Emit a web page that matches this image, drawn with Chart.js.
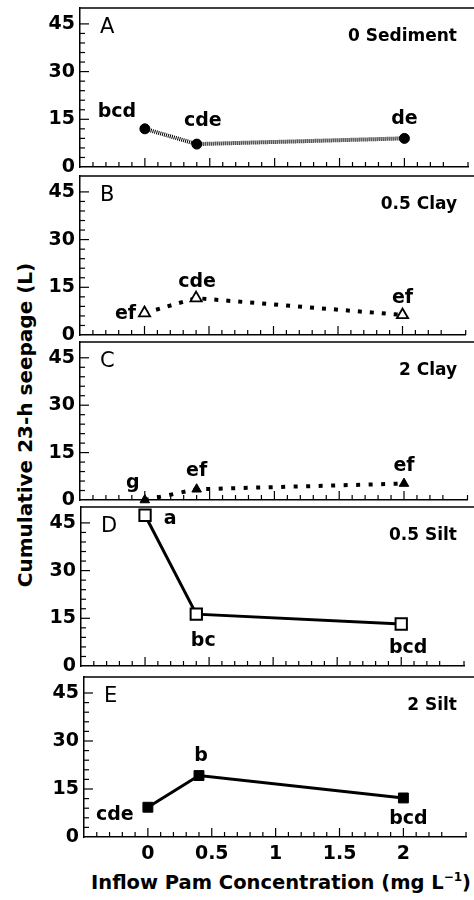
<!DOCTYPE html>
<html>
<head>
<meta charset="utf-8">
<script src="https://cdn.jsdelivr.net/npm/chart.js@4.4.1/dist/chart.umd.min.js"></script>
<style>
  body { margin: 0; background: #fff; width: 474px; height: 900px; position: relative; overflow: hidden; font-family: "DejaVu Sans", sans-serif; }
  canvas { position: absolute; left: 0; }
  #ytitle { position: absolute; left: 25px; top: 425px; transform: translate(-50%, -50%) rotate(-90deg); font-weight: bold; font-size: 20px; white-space: nowrap; color: #000; }
  #xtitle { position: absolute; left: 281px; top: 882px; transform: translate(-50%, -50%); font-weight: bold; font-size: 19.5px; white-space: nowrap; color: #000; }
  #xtitle sup { font-size: 12px; vertical-align: 8px; line-height: 0; }
</style>
</head>
<body>
<div id="ytitle">Cumulative 23-h seepage (L)</div>
<div id="xtitle">Inflow Pam Concentration (mg L<sup>&minus;1</sup>)</div>
<script>
// data
var pamConc = [0, 0.4, 2];

var seepA = [12.0, 7.2, 9.0];
var seepB = [6.9, 11.6, 6.3];
var seepC = [0.0, 3.4, 5.2];
var seepD = [47.4, 16.3, 13.2];
var seepE = [9.3, 19.2, 12.2];

var lettersA = ['bcd', 'cde', 'de'];
var lettersB = ['ef', 'cde', 'ef'];
var lettersC = ['g', 'ef', 'ef'];
var lettersD = ['a', 'bc', 'bcd'];
var lettersE = ['cde', 'b', 'bcd'];

var panelIds = ['A', 'B', 'C', 'D', 'E'];
var panelTitles = ['0 Sediment', '0.5 Clay', '2 Clay', '0.5 Silt', '2 Silt'];
var yTickLabels = [0, 15, 30, 45];
var xTickLabels = [0, 0.5, 1, 1.5, 2];

var seepage = [seepA, seepB, seepC, seepD, seepE];
var letters = [lettersA, lettersB, lettersC, lettersD, lettersE];

// layout
var plotTop = [8, 176, 342, 507, 677];
var plotBottom = [164, 332, 497, 663, 834];
var axisLeft = [80, 80, 80, 81, 84];
var PAD_TOP = 10, PAD_BOTTOM = 12, X_AXIS_H = 34, EXTRA = 3;

var styles = [
  { pointStyle: 'circle', radius: 5, fill: '#000', pbw: 1, dash: [1, 1], width: 4 },
  { pointStyle: 'triangle', radius: 6.5, fill: '#fff', pbw: 1.8, dash: [4, 8], width: 4 },
  { pointStyle: 'triangle', radius: 5.5, fill: '#000', pbw: 1, dash: [4, 8.5], width: 4 },
  { pointStyle: 'rect', radius: 8, fill: '#fff', pbw: 2, dash: [], width: 3 },
  { pointStyle: 'rect', radius: 7, fill: '#000', pbw: 1, dash: [], width: 3 }
];

var labelOffsets = [
  [[-28, -17], [6, -23], [0, -19]],
  [[-19, 1], [1, -16], [0, -17]],
  [[-12, -17], [0, -18], [0, -18]],
  [[25, 4], [7, 27], [7, 24]],
  [[-33, 8], [2, -19], [5, 21]]
];

var boldFont = '"DejaVu Sans", sans-serif';

var panelDecor = {
  id: 'panelDecor',
  afterDraw: function (chart) {
    var o = chart.options.plugins.panelDecor;
    var ctx = chart.ctx, a = chart.chartArea;
    var x = chart.scales.x, y = chart.scales.y;
    ctx.save();
    ctx.strokeStyle = '#000';
    ctx.lineWidth = 1.5;
    // top frame line
    ctx.beginPath();
    ctx.moveTo(a.left, a.top);
    ctx.lineTo(chart.width + 2, a.top);
    ctx.stroke();
    // inward ticks
    ctx.lineWidth = 1.2;
    x.ticks.forEach(function (t) {
      var px = x.getPixelForValue(t.value);
      if (px < a.left + 1) return;
      var major = Math.abs(t.value * 2 - Math.round(t.value * 2)) < 1e-6;
      ctx.beginPath();
      ctx.moveTo(px, a.bottom);
      ctx.lineTo(px, a.bottom - (major ? 9 : 5));
      ctx.stroke();
    });
    y.ticks.forEach(function (t) {
      var py = y.getPixelForValue(t.value);
      if (py > a.bottom - 1 || py < a.top + 1) return;
      var major = t.value % 15 === 0;
      ctx.beginPath();
      ctx.moveTo(a.left, py);
      ctx.lineTo(a.left + (major ? 9 : 5), py);
      ctx.stroke();
    });
    // panel letter and title
    ctx.fillStyle = '#000';
    ctx.textBaseline = 'alphabetic';
    ctx.textAlign = 'left';
    ctx.font = '21px ' + boldFont;
    ctx.fillText(o.id, a.left + 20, a.top + 24.5);
    ctx.textAlign = 'right';
    ctx.font = 'bold 17px ' + boldFont;
    ctx.fillText(o.title, 457, a.top + 33);
    // significance letters at points
    ctx.textAlign = 'center';
    ctx.textBaseline = 'middle';
    ctx.font = 'bold 19px ' + boldFont;
    var meta = chart.getDatasetMeta(0);
    meta.data.forEach(function (pt, i) {
      var off = o.offsets[i];
      ctx.fillText(o.letters[i], pt.x + off[0], pt.y + off[1]);
    });
    ctx.restore();
  }
};

panelIds.forEach(function (id, k) {
  var last = k === panelIds.length - 1;
  var cv = document.createElement('canvas');
  var h = PAD_TOP + (plotBottom[k] - plotTop[k]) + (last ? X_AXIS_H : PAD_BOTTOM) + EXTRA;
  cv.width = 474;
  cv.height = h;
  cv.style.top = (plotTop[k] - PAD_TOP) + 'px';
  document.body.appendChild(cv);

  var st = styles[k];
  var pts = pamConc.map(function (c, i) { return { x: c, y: seepage[k][i] }; });

  new Chart(cv, {
    type: 'line',
    data: {
      datasets: [{
        data: pts,
        borderColor: '#000',
        borderWidth: st.width,
        borderDash: st.dash,
        borderCapStyle: 'butt',
        pointStyle: st.pointStyle,
        pointRadius: st.radius,
        pointHoverRadius: st.radius,
        pointBackgroundColor: st.fill,
        pointBorderColor: '#000',
        pointBorderWidth: st.pbw,
        tension: 0,
        clip: false
      }]
    },
    options: {
      responsive: false,
      animation: false,
      events: [],
      layout: { padding: { top: PAD_TOP, bottom: last ? 0 : PAD_BOTTOM, left: 0, right: 0 } },
      plugins: {
        legend: { display: false },
        tooltip: { enabled: false },
        panelDecor: { id: id, title: panelTitles[k], letters: letters[k], offsets: labelOffsets[k] }
      },
      scales: {
        x: {
          type: 'linear',
          min: -0.5,
          max: 2.49,
          afterFit: function (s) { s.height = last ? X_AXIS_H : 0; s.paddingLeft = 0; s.paddingRight = 0; },
          grid: { display: true, drawOnChartArea: false, drawTicks: false },
          border: { display: true, color: '#000', width: 1.5 },
          ticks: {
            display: last,
            stepSize: 0.1,
            autoSkip: false,
            maxRotation: 0,
            padding: 6,
            color: '#000',
            font: { family: boldFont, size: 19, weight: 'bold' },
            callback: function (v) {
              var hit = xTickLabels.filter(function (t) { return Math.abs(t - v) < 1e-6; });
              return hit.length ? String(hit[0]) : '';
            }
          }
        },
        y: {
          min: 0,
          max: 50,
          afterFit: function (s) { s.width = axisLeft[k]; s.paddingTop = 0; s.paddingBottom = 0; },
          grid: { display: true, drawOnChartArea: false, drawTicks: false },
          border: { display: true, color: '#000', width: 1.5 },
          ticks: {
            stepSize: 3,
            autoSkip: false,
            padding: 5,
            color: '#000',
            font: { family: boldFont, size: 19, weight: 'bold', lineHeight: 0.5 },
            callback: function (v) {
              return yTickLabels.indexOf(v) >= 0 ? String(v) : '';
            }
          }
        }
      }
    },
    plugins: [panelDecor]
  });
});
</script>
</body>
</html>
